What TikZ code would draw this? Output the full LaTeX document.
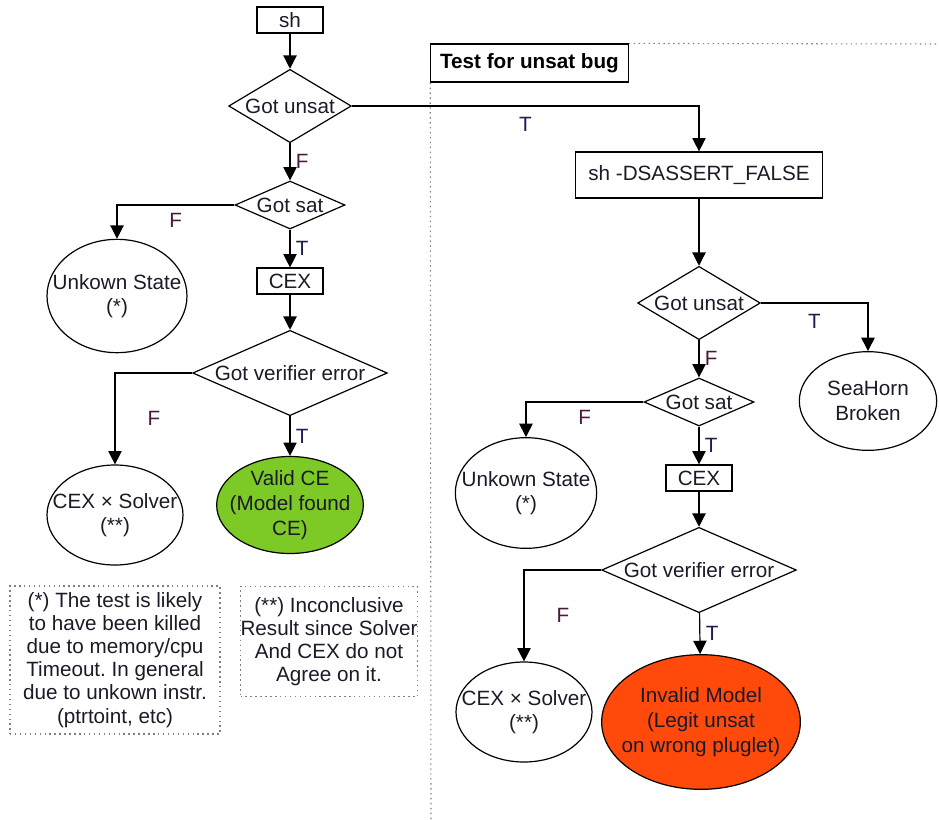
\documentclass[tikz,border=0pt]{standalone}
\usepackage{fontspec}
\setmainfont{Liberation Sans}
\usetikzlibrary{shapes.geometric,arrows.meta}

\frenchspacing
\newcommand{\zw}[1]{\makebox[0pt]{#1}}
\definecolor{validgreen}{HTML}{7DCA27}
\definecolor{invalidred}{HTML}{FF4A0C}
\definecolor{falsecol}{HTML}{4A1A3C}
\definecolor{truecol}{HTML}{1C1C50}
\definecolor{inkcol}{HTML}{1A1A28}

\begin{document}
\begin{tikzpicture} [
                x=0.75pt,
                y=-0.75pt,
                font=\fontsize{15.5}{18.5}\selectfont,
                text=inkcol,
                line width=0.9pt,
                process/.style = {rectangle,draw,inner sep=0pt,minimum width=49.5pt,minimum height=19.5pt},
                decision/.style = {diamond,draw,inner sep=0pt,shape aspect=1.7,minimum width=92pt,minimum height=55pt},
                flat decision/.style = {decision,shape aspect=2.3,minimum width=82.5pt,minimum height=36pt},
                wide decision/.style = {decision,shape aspect=2.3,minimum width=146pt,minimum height=64pt},
                state/.style = {ellipse,draw,inner sep=0pt,align=center},
                note/.style = {draw=gray,dash pattern=on 1.1pt off 2.6pt,line width=0.8pt,inner sep=0pt,align=center,
                               font=\fontsize{15.5}{17.3}\selectfont},
                frame/.style = {draw=gray,dash pattern=on 1.1pt off 2.6pt,line width=0.8pt},
                flow/.style = {draw,-{Triangle[width=10pt,length=10pt]}},
                lblF/.style = {text=falsecol,inner sep=0pt},
                lblT/.style = {text=truecol,inner sep=0pt}
            ]
            \useasboundingbox (0,0) rectangle (939,819);
            % boxes and decisions
            \foreach \pos/\name/\txt in {{(290,20)/sh1/sh}, {(290,281)/cex1/CEX}, {(699,478)/cex2/CEX}}
                \node[process] (\name) at \pos {\txt};
            \node[process,minimum width=185pt,minimum height=34.5pt] (sh2) at (699,175) {sh -DSASSERT\_FALSE};
            \foreach \pos/\name in {{(290,106)/unsat1}, {(699,303)/unsat2}}
                \node[decision] (\name) at \pos {Got unsat};
            \foreach \pos/\name in {{(290,205)/sat1}, {(699,402)/sat2}}
                \node[flat decision] (\name) at \pos {Got sat};
            \foreach \pos/\name in {{(290,373)/ver1}, {(699,570)/ver2}}
                \node[wide decision] (\name) at \pos {Got verifier error};
            % end states
            \node[state,minimum width=105pt,minimum height=85pt] (unk1) at (117,296) {\zw{Unkown State}\\\zw{(*)}};
            \node[state,minimum width=102pt,minimum height=75pt] (cxs1) at (115,515) {\zw{CEX × Solver}\\\zw{(**)}};
            \node[state,fill=validgreen,minimum width=110pt,minimum height=72pt] (valid) at (290,505)
                {\zw{Valid CE}\\\zw{(Model found}\\\zw{CE)}};
            \node[state,minimum width=103pt,minimum height=74pt] (sea) at (868,401) {\zw{SeaHorn}\\\zw{Broken}};
            \node[state,minimum width=106pt,minimum height=83pt] (unk2) at (526,493) {\zw{Unkown State}\\\zw{(*)}};
            \node[state,minimum width=102pt,minimum height=75pt] (cxs2) at (524,712) {\zw{CEX × Solver}\\\zw{(**)}};
            \node[state,fill=invalidred,minimum width=149pt,minimum height=101pt] (inv) at (701,722)
                {\zw{Invalid Model}\\\zw{(Legit unsat}\\\zw{on wrong pluglet)}};
            % notes and the unsat bug frame
            \node[note,minimum width=157.5pt,minimum height=111pt] (note1) at (115,660)
                {(*) The test is likely\\to have been killed\\due to memory/cpu\\Timeout. In general\\due to unkown instr.\\(ptrtoint, etc)};
            \node[note,minimum width=132pt,minimum height=83pt] (note2) at (329,641.5)
                {(**) Inconclusive\\Result since Solver\\And CEX do not\\Agree on it.};
            \node[draw,font=\fontsize{15.5}{18.5}\selectfont\bfseries,text=black,inner sep=0pt,
                  minimum width=148pt,minimum height=28.5pt] (title) at (529.5,63) {Test for unsat bug};
            \coordinate (frametop) at (939,44);
            \coordinate (framebot) at (431,819);
            \path[frame] (title.north east) -- (frametop);
            \path[frame] (title.south west) -- (framebot);
            % left flow
            \path[flow] (sh1) -- (unsat1);
            \path[flow] (unsat1) -- node[lblF,right=4pt] {F} (sat1);
            \path[flow] (unsat1.east) -| node[lblT,pos=0.25,below=8pt] {T} (sh2);
            \path[flow] (sat1.west) -| node[lblF,pos=0.25,below=6pt] {F} (unk1);
            \path[flow] (sat1) -- node[lblT,right=4pt] {T} (cex1);
            \path[flow] (cex1) -- (ver1);
            \path[flow] (ver1.west) -| node[lblF,pos=0.75,right=24pt] {F} (cxs1);
            \path[flow] (ver1) -- node[lblT,right=4pt] {T} (valid);
            % right flow
            \path[flow] (sh2) -- (unsat2);
            \path[flow] (unsat2.east) -| node[lblT,pos=0.25,below=8pt] {T} (sea);
            \path[flow] (unsat2) -- node[lblF,right=4pt] {F} (sat2);
            \path[flow] (sat2.west) -| node[lblF,pos=0.25,below=6pt] {F} (unk2);
            \path[flow] (sat2) -- node[lblT,right=4pt] {T} (cex2);
            \path[flow] (cex2) -- (ver2);
            \path[flow] (ver2.west) -| node[lblF,pos=0.75,right=24pt] {F} (cxs2);
            \path[flow] (ver2) -- node[lblT,right=4pt] {T} (inv);
        \end{tikzpicture}
\end{document}
